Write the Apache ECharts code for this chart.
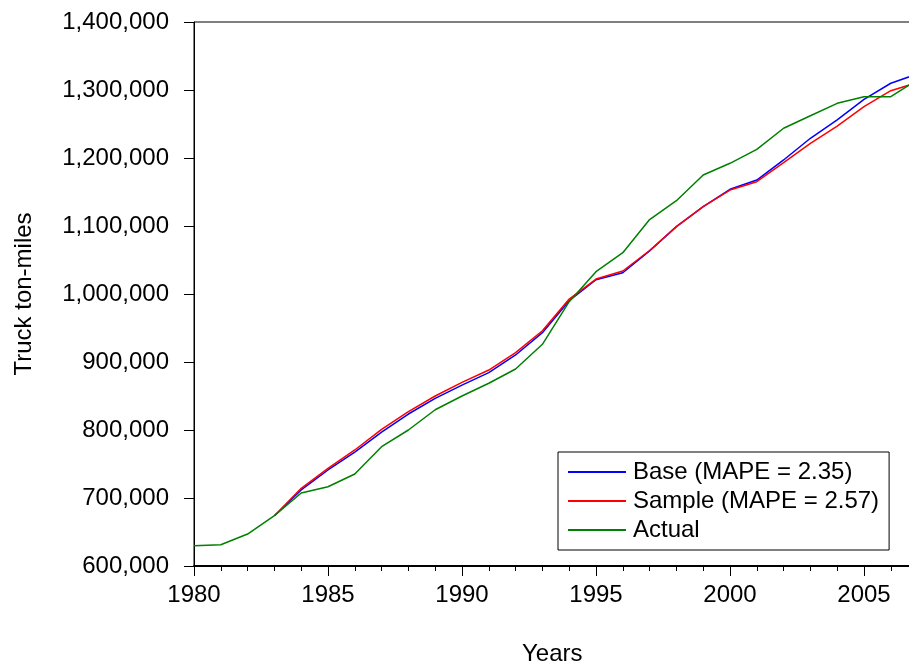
<!DOCTYPE html>
<html>
<head>
<meta charset="utf-8">
<script src="https://cdn.jsdelivr.net/npm/echarts@6/dist/echarts.min.js"></script>
<style>
  html, body { margin: 0; padding: 0; background: #fff; }
  #chart { width: 909px; height: 669px; }
</style>
</head>
<body>
<div id="chart"></div>
<script>
// years 1980 - 2007
var years = [1980, 1981, 1982, 1983, 1984, 1985, 1986, 1987, 1988, 1989,
  1990, 1991, 1992, 1993, 1994, 1995, 1996, 1997, 1998, 1999,
  2000, 2001, 2002, 2003, 2004, 2005, 2006, 2007];

var actual = [629900, 631300, 647000, 674000, 707400, 716600, 735300, 775500, 800000, 829800,
  850000, 868700, 889700, 926000, 988700, 1032800, 1060700, 1109500, 1137200, 1175000,
  1192200, 1212800, 1243700, 1262200, 1280400, 1290200, 1290200, 1315000];

// forecasts start in 1983
var base = [null, null, null, 674000, 711800, 741200, 767600, 797000, 823500, 846600,
  866000, 884300, 910300, 943100, 990100, 1021000, 1031300, 1063500, 1099000, 1128400,
  1154000, 1167600, 1197100, 1229000, 1256000, 1286300, 1309900, 1323800];

var sample = [null, null, null, 674000, 714300, 743700, 770600, 801000, 827000, 850000,
  870000, 888200, 913700, 946000, 992600, 1022000, 1033800, 1064000, 1099000, 1128400,
  1152900, 1165200, 1193100, 1221600, 1247000, 1275400, 1299000, 1311000];

var seriesNames = ['Base (MAPE = 2.35)', 'Sample (MAPE = 2.57)', 'Actual'];
var yTicks = [600000, 1400000, 100000]; // min, max, step

function pairs(vals) {
  var out = [];
  for (var i = 0; i < years.length; i++) {
    if (vals[i] !== null) out.push([years[i], vals[i]]);
  }
  return out;
}

var font = "'Liberation Sans', Arial, sans-serif";
var chart = echarts.init(document.getElementById('chart'), null, { renderer: 'canvas' });

var option = {
  animation: false,
  backgroundColor: '#fff',
  textStyle: { fontFamily: font, color: '#000' },
  // x axis title sits under the visible part of the axis, not the full (cut) one
  title: {
    text: 'Years',
    left: 522,
    top: 642,
    padding: 0,
    textStyle: { fontSize: 24, fontWeight: 'normal', fontFamily: font, color: '#000' }
  },
  grid: {
    left: 194,
    top: 22,
    bottom: 103,
    right: -89, // axis runs to 2010, plot is cut at the window edge
    outerBoundsMode: 'none',
    containLabel: false,
    show: true,
    borderColor: '#000',
    borderWidth: 1
  },
  legend: {
    orient: 'vertical',
    left: 558,
    top: 452,
    padding: [8, 10, 8, 10],
    itemGap: 5,
    itemWidth: 58,
    itemHeight: 2,
    icon: 'rect',
    borderColor: '#000',
    borderWidth: 1,
    backgroundColor: '#fff',
    textStyle: { fontSize: 24, fontFamily: font, color: '#000', lineHeight: 24, padding: [0, 0, 0, 2] },
    data: seriesNames
  },
  xAxis: {
    type: 'value',
    min: 1980,
    max: 2010,
    interval: 5,
    axisLine: { show: true, lineStyle: { color: '#000', width: 2 } },
    axisTick: { show: true, length: 10, lineStyle: { color: '#000' } },
    minorTick: { show: true, splitNumber: 5, length: 5, lineStyle: { color: '#000' } },
    axisLabel: {
      fontSize: 24,
      fontFamily: font,
      color: '#000',
      margin: 17,
      formatter: function (v) { return String(v); }
    },
    splitLine: { show: false }
  },
  yAxis: {
    type: 'value',
    min: yTicks[0],
    max: yTicks[1],
    interval: yTicks[2],
    name: 'Truck ton-miles',
    nameLocation: 'middle',
    nameGap: 158,
    nameTextStyle: { fontSize: 24, fontFamily: font, color: '#000' },
    axisLine: { show: true, lineStyle: { color: '#000', width: 1 } },
    axisTick: { show: true, length: 10, lineStyle: { color: '#000' } },
    axisLabel: {
      fontSize: 24,
      fontFamily: font,
      color: '#000',
      margin: 25,
      formatter: function (v) { return v.toLocaleString('en-US'); }
    },
    splitLine: { show: false }
  },
  series: [
    {
      name: seriesNames[0],
      type: 'line',
      symbol: 'none',
      data: pairs(base),
      lineStyle: { color: '#0000ff', width: 1.5 },
      itemStyle: { color: '#0000ff' }
    },
    {
      name: seriesNames[1],
      type: 'line',
      symbol: 'none',
      data: pairs(sample),
      lineStyle: { color: '#ff0000', width: 1.5 },
      itemStyle: { color: '#ff0000' }
    },
    {
      name: seriesNames[2],
      type: 'line',
      symbol: 'none',
      data: pairs(actual),
      lineStyle: { color: '#008000', width: 1.5 },
      itemStyle: { color: '#008000' }
    }
  ]
};

chart.setOption(option);
</script>
</body>
</html>
